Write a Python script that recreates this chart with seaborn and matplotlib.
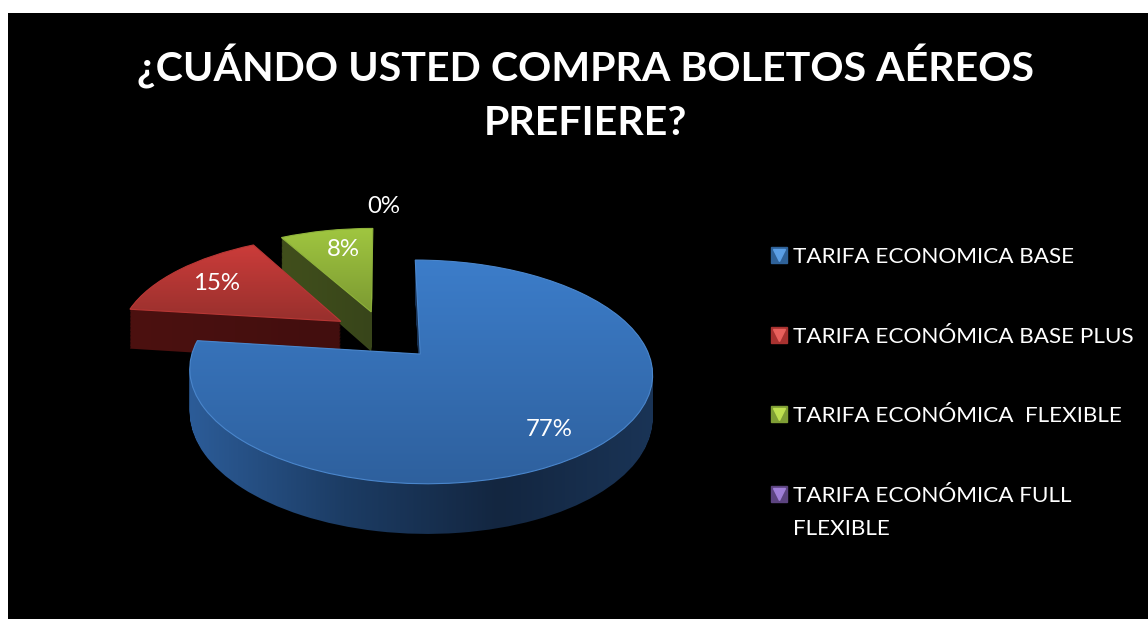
import numpy as np
import matplotlib
matplotlib.use("Agg")
import matplotlib.pyplot as plt
from matplotlib.lines import Line2D
from matplotlib.path import Path
from matplotlib.transforms import Transform
from matplotlib.legend_handler import HandlerTuple
import seaborn as sns

titulo = "¿CUÁNDO USTED COMPRA BOLETOS AÉREOS\nPREFIERE?"
categorias = ["TARIFA ECONOMICA BASE", "TARIFA ECONÓMICA BASE PLUS",
              "TARIFA ECONÓMICA  FLEXIBLE", "TARIFA ECONÓMICA FULL FLEXIBLE"]
valores = [77, 15, 8, 0]

# degradados: cara superior (arriba -> abajo) y lateral (izquierda -> derecha)
cara_sup = [["#3c7dca", "#2e609d"], ["#cc3c3a", "#98302d"], ["#a0c640", "#7c9a32"]]
cara_lat = [["#2c5c98", "#1c3c64", "#132640", "#1a3456"], ["#4c1110", "#420e0e"], ["#414f1c", "#38451a"]]
borde = ["#4a86cc", "#b83735", "#8fb33b"]
leyenda_osc = ["#2f6299", "#a83230", "#7f9e35", "#5c4480"]
leyenda_cla = ["#5b9fe6", "#e8605c", "#bfe050", "#a07fd8"]

W, H = 1148, 619
CX, CY = 384, 335  # centro del pastel en pixeles


class Perspectiva(Transform):
    # pasa del plano del pastel a pixeles, con el fondo mas pequeno que el frente
    input_dims = 2
    output_dims = 2

    def __init__(self, caida=0.0):
        super().__init__()
        self.caida = caida

    def transform_non_affine(self, xy):
        xy = np.asarray(xy, dtype=float)
        d = 1 + 0.155 * xy[:, 1]
        return np.column_stack([222 * xy[:, 0] / d, (103 * xy[:, 1] - 41 * self.caida) / d])


sns.set_theme(style="white")
plt.rcParams["font.family"] = ["Lato", "DejaVu Sans"]

fig = plt.figure(figsize=(W / 100, H / 100), dpi=100, facecolor="white")
ax = fig.add_axes([8 / W, 0, 1 - 8 / W, 1 - 13 / H], facecolor="black")

wedges, _, pct = ax.pie(valores, explode=[0.24] * 4, startangle=90, counterclock=False,
                        autopct="%.0f%%", pctdistance=0.75, radius=1,
                        textprops={"color": "white", "fontsize": 17.3})
ax.set_aspect("auto")
ax.set_frame_on(True)

plano = Perspectiva()
orden = {0: 30, 1: 20, 2: 10}  # se dibuja de atras hacia adelante
for i, w in enumerate(wedges):
    w.set_transform(plano + ax.transData)
    if valores[i] == 0:
        w.set_visible(False)
        continue
    z = orden[i]
    trozo = w.get_path()
    # lateral: union del trozo repetido a varias alturas
    capas = [Perspectiva(t).transform_path(trozo) for t in np.linspace(0, 1, 30)]
    lateral = Path.make_compound_path(*capas)
    x0, y0 = lateral.vertices.min(axis=0)
    x1, y1 = lateral.vertices.max(axis=0)
    im = ax.imshow(np.linspace(0, 1, 256)[None, :], extent=(x0, x1, y0, y1), aspect="auto",
                   cmap=sns.blend_palette(cara_lat[i], as_cmap=True), zorder=z)
    im.set_clip_path(lateral, ax.transData)
    # cara superior
    sup = plano.transform_path(trozo)
    x0, y0 = sup.vertices.min(axis=0)
    x1, y1 = sup.vertices.max(axis=0)
    im = ax.imshow(np.linspace(0, 1, 256)[:, None], extent=(x0, x1, y0, y1), aspect="auto",
                   cmap=sns.blend_palette(cara_sup[i], as_cmap=True), zorder=z + 1)
    im.set_clip_path(sup, ax.transData)
    w.set_facecolor("none")
    w.set_edgecolor(borde[i])
    w.set_linewidth(0.8)
    w.set_zorder(z + 2)

for i, t in enumerate(pct):
    t.set_transform(plano + ax.transData)
    t.set_zorder(50)
# retoques de las etiquetas; la del 0% queda fuera del pastel
ajuste_pct = [(-0.005, -0.06), (0.0, -0.02), (0.035, 0.0)]
for t, (dx, dy) in zip(pct, ajuste_pct):
    x_pct, y_pct = t.get_position()
    t.set_position((x_pct + dx, y_pct + dy))
x_pct, y_pct = pct[3].get_position()
pct[3].set_position((x_pct, y_pct * 1.56))

ax.set_xlim(8 - CX, W - CX)
ax.set_ylim(CY - H, CY - 13)
ax.set_xticks([])
ax.set_yticks([])
for s in ax.spines.values():
    s.set_visible(False)

fig.text(585.5 / W, 1 - 93 / H, titulo, color="white", fontsize=29.6, fontweight="bold",
         ha="center", va="center", linespacing=1.56)

# leyenda; la ultima etiqueta ocupa dos lineas como en el original
marcas = [(Line2D([], [], ls="", marker="s", ms=11, color=o),
           Line2D([], [], ls="", marker="v", ms=9, color=c))
          for o, c in zip(leyenda_osc, leyenda_cla)]
primera, segunda = categorias[3].rsplit(" ", 1)
etiquetas = categorias[:3] + [primera]
leg = ax.legend(marcas, etiquetas, handler_map={tuple: HandlerTuple(ndivide=1, pad=0)},
                loc="upper left", bbox_to_anchor=(768 / W, 1 - 247 / H), bbox_transform=fig.transFigure,
                frameon=False, labelcolor="white", fontsize=16.2, labelspacing=2.65,
                handlelength=1.0, handletextpad=0.11, borderpad=0, borderaxespad=0)
leg.set_zorder(60)
fig.text(793 / W, 1 - 529 / H, segunda, color="white", fontsize=16.2, ha="left", va="center")

fig.savefig("out.png", dpi=100)
